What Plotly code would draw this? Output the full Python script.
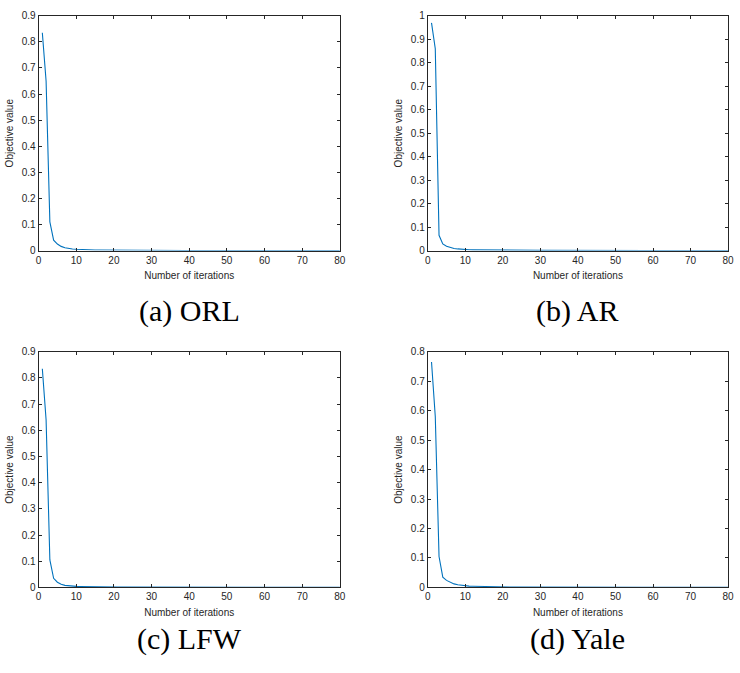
import plotly.graph_objects as go

iterations = list(range(1, 81))

orl = [0.835, 0.650, 0.110, 0.040, 0.025, 0.016, 0.011, 0.008, 0.006, 0.005,
       0.004, 0.0035, 0.003, 0.0027, 0.0024, 0.0021, 0.0019, 0.0017, 0.0015, 0.0014,
       0.0013, 0.0012, 0.0011, 0.0010, 0.0010, 0.0009, 0.0009, 0.0008, 0.0008, 0.0007,
       0.0007, 0.0007, 0.0006, 0.0006, 0.0006, 0.0005, 0.0005, 0.0005, 0.0005, 0.0004,
       0.0004, 0.0004, 0.0004, 0.0004, 0.0003, 0.0003, 0.0003, 0.0003, 0.0003, 0.0003,
       0.0003, 0.0003, 0.0002, 0.0002, 0.0002, 0.0002, 0.0002, 0.0002, 0.0002, 0.0002,
       0.0002, 0.0002, 0.0002, 0.0002, 0.0001, 0.0001, 0.0001, 0.0001, 0.0001, 0.0001,
       0.0001, 0.0001, 0.0001, 0.0001, 0.0001, 0.0001, 0.0001, 0.0001, 0.0001, 0.0001]

ar = [0.970, 0.860, 0.065, 0.028, 0.018, 0.013, 0.009, 0.007, 0.005, 0.004,
      0.0035, 0.003, 0.0027, 0.0024, 0.0021, 0.0019, 0.0017, 0.0015, 0.0014, 0.0013,
      0.0012, 0.0011, 0.0010, 0.0010, 0.0009, 0.0009, 0.0008, 0.0008, 0.0007, 0.0007,
      0.0007, 0.0006, 0.0006, 0.0006, 0.0005, 0.0005, 0.0005, 0.0005, 0.0004, 0.0004,
      0.0004, 0.0004, 0.0004, 0.0003, 0.0003, 0.0003, 0.0003, 0.0003, 0.0003, 0.0003,
      0.0003, 0.0002, 0.0002, 0.0002, 0.0002, 0.0002, 0.0002, 0.0002, 0.0002, 0.0002,
      0.0002, 0.0002, 0.0002, 0.0001, 0.0001, 0.0001, 0.0001, 0.0001, 0.0001, 0.0001,
      0.0001, 0.0001, 0.0001, 0.0001, 0.0001, 0.0001, 0.0001, 0.0001, 0.0001, 0.0001]

lfw = [0.835, 0.640, 0.105, 0.035, 0.020, 0.012, 0.008, 0.006, 0.005, 0.004,
       0.0035, 0.003, 0.0027, 0.0024, 0.0021, 0.0019, 0.0017, 0.0015, 0.0014, 0.0013,
       0.0012, 0.0011, 0.0010, 0.0010, 0.0009, 0.0009, 0.0008, 0.0008, 0.0007, 0.0007,
       0.0007, 0.0006, 0.0006, 0.0006, 0.0005, 0.0005, 0.0005, 0.0005, 0.0004, 0.0004,
       0.0004, 0.0004, 0.0004, 0.0003, 0.0003, 0.0003, 0.0003, 0.0003, 0.0003, 0.0003,
       0.0003, 0.0002, 0.0002, 0.0002, 0.0002, 0.0002, 0.0002, 0.0002, 0.0002, 0.0002,
       0.0002, 0.0002, 0.0002, 0.0001, 0.0001, 0.0001, 0.0001, 0.0001, 0.0001, 0.0001,
       0.0001, 0.0001, 0.0001, 0.0001, 0.0001, 0.0001, 0.0001, 0.0001, 0.0001, 0.0001]

yale = [0.765, 0.580, 0.105, 0.035, 0.024, 0.017, 0.012, 0.009, 0.007, 0.005,
        0.0045, 0.004, 0.0035, 0.003, 0.0027, 0.0024, 0.0021, 0.0019, 0.0017, 0.0015,
        0.0014, 0.0013, 0.0012, 0.0011, 0.0010, 0.0010, 0.0009, 0.0009, 0.0008, 0.0008,
        0.0007, 0.0007, 0.0007, 0.0006, 0.0006, 0.0006, 0.0005, 0.0005, 0.0005, 0.0005,
        0.0004, 0.0004, 0.0004, 0.0004, 0.0003, 0.0003, 0.0003, 0.0003, 0.0003, 0.0003,
        0.0003, 0.0002, 0.0002, 0.0002, 0.0002, 0.0002, 0.0002, 0.0002, 0.0002, 0.0002,
        0.0002, 0.0002, 0.0002, 0.0001, 0.0001, 0.0001, 0.0001, 0.0001, 0.0001, 0.0001,
        0.0001, 0.0001, 0.0001, 0.0001, 0.0001, 0.0001, 0.0001, 0.0001, 0.0001, 0.0001]

captions = ["(a) ORL", "(b) AR", "(c) LFW", "(d) Yale"]
series = [orl, ar, lfw, yale]
y_max = [0.9, 1.0, 0.9, 0.8]
x_ticks = [0, 10, 20, 30, 40, 50, 60, 70, 80]

W, H = 740, 673
# pixel boxes (left, right, top, bottom)
boxes = [(36, 341, 10, 249), (430, 734, 10, 249),
         (36, 341, 352, 592), (430, 734, 352, 592)]
caption_y = [311, 311, 645, 645]

fig = go.Figure()
axis_color = "#262626"
tick_font = dict(family="Liberation Sans, Arial, sans-serif", size=10, color=axis_color)

for i, (vals, ym, box) in enumerate(zip(series, y_max, boxes)):
    n = i + 1
    xa = "x" if n == 1 else f"x{n}"
    ya = "y" if n == 1 else f"y{n}"
    fig.add_trace(go.Scatter(x=iterations, y=vals, mode="lines",
                             line=dict(color="#0072BD", width=1.1),
                             xaxis=xa, yaxis=ya, showlegend=False))
    l, r, t, b = box
    xdom = [l / W, r / W]
    ydom = [1 - b / H, 1 - t / H]
    step = 0.1
    yt = [round(k * step, 1) for k in range(int(round(ym / step)) + 1)]
    ytext = [("0" if v == 0 else ("1" if v == 1 else f"{v:g}")) for v in yt]
    fig.layout[f"xaxis{'' if n == 1 else n}"] = dict(
        domain=xdom, range=[0, 80], anchor=ya, tickvals=x_ticks,
        ticks="inside", ticklen=3, tickcolor=axis_color, tickwidth=1,
        showline=True, linecolor=axis_color, linewidth=1, mirror="ticks",
        showgrid=False, zeroline=False, tickfont=tick_font,
        title=dict(text="Number of iterations", font=tick_font, standoff=7))
    fig.layout[f"yaxis{'' if n == 1 else n}"] = dict(
        domain=ydom, range=[0, ym], anchor=xa, tickvals=yt, ticktext=ytext,
        ticks="inside", ticklen=3, tickcolor=axis_color, tickwidth=1,
        showline=True, linecolor=axis_color, linewidth=1, mirror="ticks",
        showgrid=False, zeroline=False, tickfont=tick_font,
        title=dict(text="Objective value", font=tick_font, standoff=6))
    fig.add_annotation(text=captions[i], xref="paper", yref="paper",
                       x=(l + r) / 2 / W, y=1 - caption_y[i] / H,
                       showarrow=False, xanchor="center", yanchor="middle",
                       font=dict(family="Liberation Serif, Times New Roman, serif",
                                 size=30, color="black"))

fig.update_layout(width=W, height=H, margin=dict(l=0, r=0, t=0, b=0),
                  plot_bgcolor="white", paper_bgcolor="white")

fig.write_html("out.html", config={"displayModeBar": False},
               post_script="document.body.style.margin='0';document.body.style.padding='0';")
